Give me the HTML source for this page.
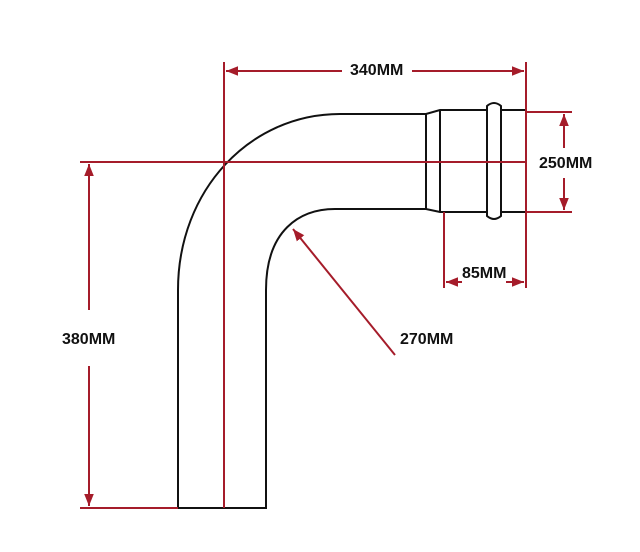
<html><body style="margin:0;background:#fff">
<svg width="640" height="552" xmlns="http://www.w3.org/2000/svg" style="display:block">
<defs><marker id="a" viewBox="0 0 10 10" refX="10" refY="5" markerWidth="12" markerHeight="12" markerUnits="userSpaceOnUse" orient="auto-start-reverse"><path d="M0,1 L10,5 L0,9 z" fill="#a51c2a"/></marker></defs>
<g fill="none" stroke="#111" stroke-width="2">
<path d="M178,508 V290 C178,190 250,114 340,114 H426 L440,110 H487 M501,110 H526 V212 H501 M487,212 H440 L426,209 H335 C300,209 266,230 266,290 V508 H178"/>
<path d="M426,114 V209 M440,110 V212"/>
<path d="M487,110 V106 Q494,100 501,106 V216 Q494,222 487,216 Z"/>
</g>
<g stroke="#a51c2a" stroke-width="2" fill="none">
<path d="M224,62 V508 M80,162 H526 M526,62 V288 M80,508 H178 M526,112 H572 M526,212 H572 M444,212 V288"/>
<path d="M342,71 H226" marker-end="url(#a)"/><path d="M412,71 H524" marker-end="url(#a)"/>
<path d="M564,148 V114" marker-end="url(#a)"/><path d="M564,178 V210" marker-end="url(#a)"/>
<path d="M89,310 V164" marker-end="url(#a)"/><path d="M89,366 V506" marker-end="url(#a)"/>
<path d="M462,282 H446" marker-end="url(#a)"/><path d="M506,282 H524" marker-end="url(#a)"/>
<path d="M395,355 L293,229" marker-end="url(#a)"/>
</g>
<g font-family="Liberation Sans, sans-serif" font-weight="bold" font-size="16" fill="#111">
<text x="350" y="75">340MM</text>
<text x="539" y="168">250MM</text>
<text x="462" y="278">85MM</text>
<text x="62" y="344">380MM</text>
<text x="400" y="344">270MM</text>
</g>
</svg>
</body></html>
